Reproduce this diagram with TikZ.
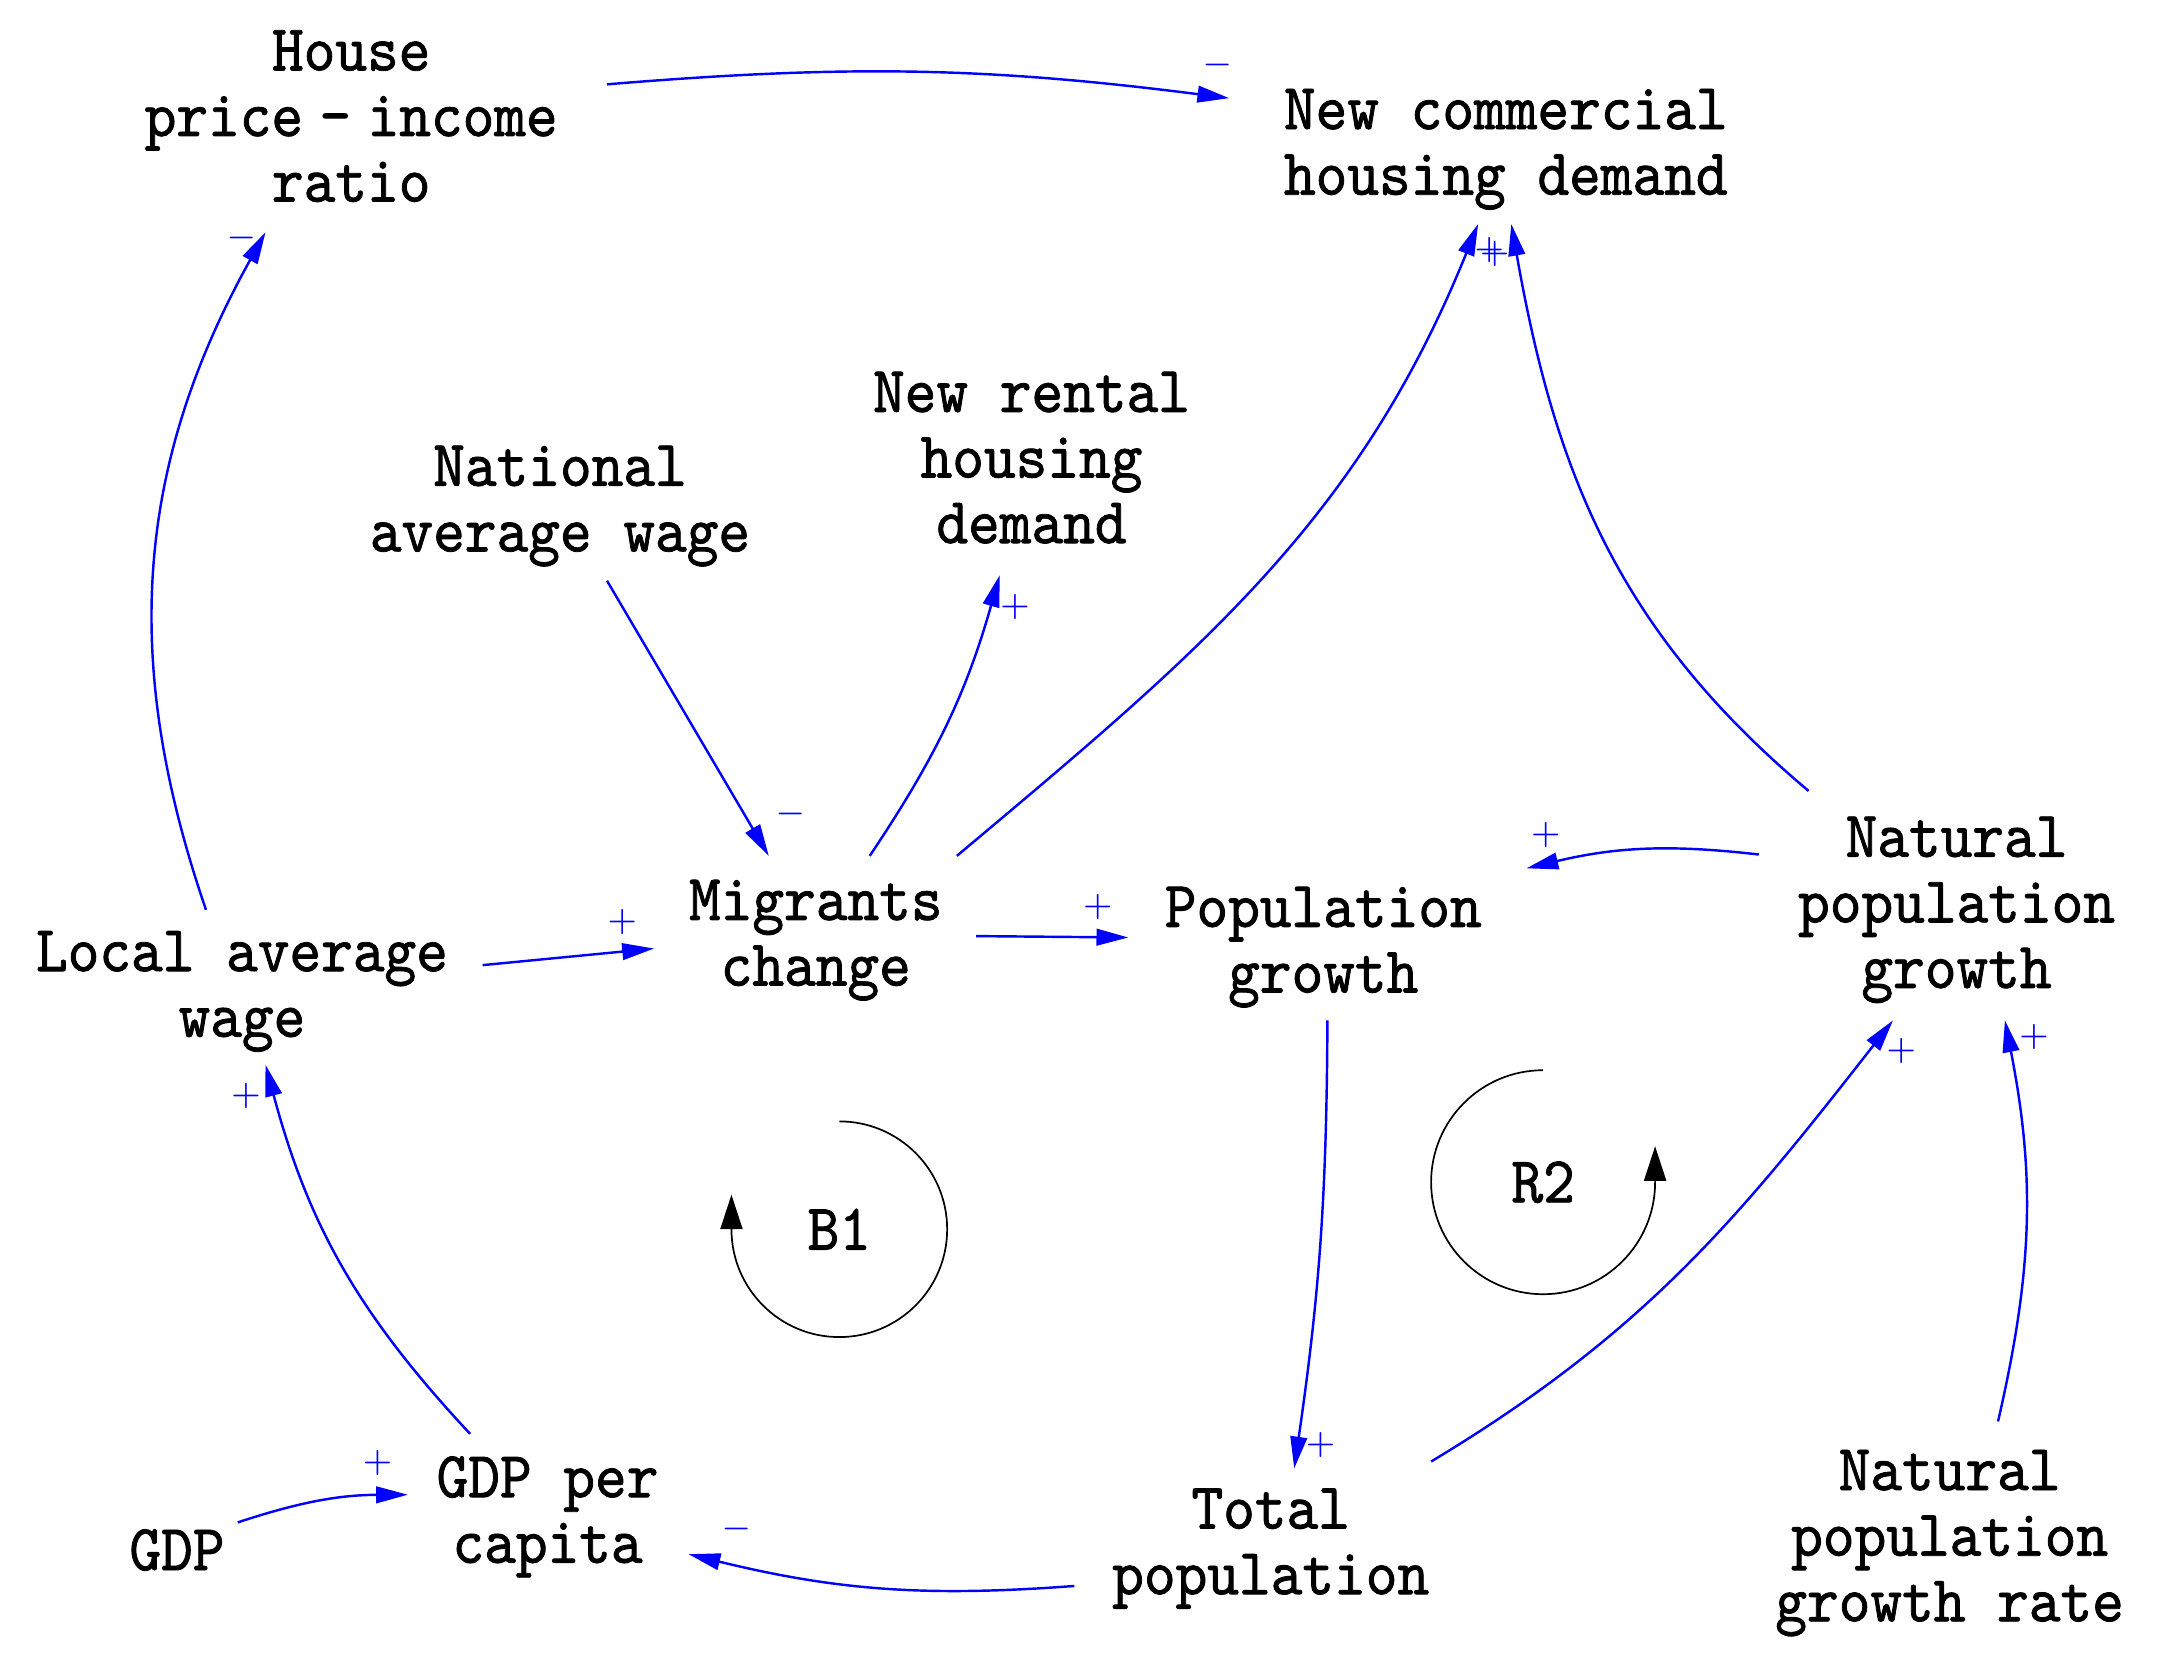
\documentclass[tikz,border=0pt]{standalone}
\usepackage{fontspec}
\setmainfont{lmmono10-regular.otf}[FakeStretch=0.92, FakeBold=1.2]
\usetikzlibrary{arrows.meta}

\begin{document}
\begin{tikzpicture}[
    var/.style={align=center, inner sep=0pt, font=\fontsize{13.5}{13.5}\selectfont},
    sgn/.style={text=blue, inner sep=0pt, font=\fontsize{7}{7}\selectfont},
    lnk/.style={draw=blue, line width=0.5pt, -{Triangle[length=0.23cm,width=0.12cm]}},
    loopar/.style={draw=black, line width=0.35pt, -{Triangle[length=0.25cm,width=0.16cm]}}
    ]
  \useasboundingbox (0,0) rectangle (15.60,11.97);
  % variables
  \node[var] (house) at (2.54,11.13) {House\\price\hspace{0.25em}-\hspace{0.25em}income\\ratio};
  \node[var] (ncom) at (10.89,10.89) {New commercial\\housing demand};
  \node[var] (rent) at (7.46,8.66) {New rental\\housing\\demand};
  \node[var] (natw) at (4.05,8.31) {National\\average wage};
  \node[var] (migr) at (5.90,5.17) {Migrants\\change};
  \node[var] (popg) at (9.57,5.12) {Population\\growth};
  \node[var] (natg) at (14.15,5.39) {Natural\\population\\growth};
  \node[var] (local) at (1.75,4.80) {Local average\\wage};
  \node[var] (gdppc) at (3.96,1.00) {GDP per\\capita};
  \node[var] (gdp) at (1.28,0.76) {GDP};
  \node[var] (total) at (9.19,0.77) {Total\\population};
  \node[var] (natr) at (14.10,0.81) {Natural\\population\\growth rate};
  \node[var] (b1) at (6.07,3.08) {B1};
  \node[var] (r2) at (11.16,3.42) {R2};
  % causal links
  \draw[lnk] ([shift={(1.85,0.23)}]house.center) to[bend left=6]
    node[sgn, at end, xshift=-0.08cm, yshift=0.24cm] {$-$} ([shift={(-2.00,0.37)}]ncom.center);
  \draw[lnk] ([shift={(-0.26,0.59)}]local.center) to[bend left=24]
    node[sgn, at end, xshift=-0.17cm, yshift=-0.04cm] {$-$} ([shift={(-0.62,-0.84)}]house.center);
  \draw[lnk] ([shift={(0.34,-0.54)}]natw.center) --
    node[sgn, at end, xshift=0.16cm, yshift=0.30cm] {$-$} ([shift={(-0.34,0.61)}]migr.center);
  \draw[lnk] ([shift={(0.39,0.61)}]migr.center) to[bend right=9]
    node[sgn, at end, xshift=0.11cm, yshift=-0.23cm] {$+$} ([shift={(-0.23,-0.85)}]rent.center);
  \draw[lnk] ([shift={(1.02,0.61)}]migr.center) to[out=40, in=248]
    node[sgn, at end, xshift=0.08cm, yshift=-0.19cm] {$+$} ([shift={(-0.20,-0.54)}]ncom.center);
  \draw[lnk] ([shift={(-1.07,0.86)}]natg.center) to[out=140, in=-80]
    node[sgn, at end, xshift=-0.12cm, yshift=-0.22cm] {$+$} ([shift={(0.04,-0.54)}]ncom.center);
  \draw[lnk] ([shift={(1.16,0.03)}]migr.center) --
    node[sgn, at end, xshift=-0.22cm, yshift=0.22cm] {$+$} ([shift={(-1.41,0.07)}]popg.center);
  \draw[lnk] ([shift={(-1.43,0.40)}]natg.center) to[bend right=10]
    node[sgn, at end, xshift=0.14cm, yshift=0.24cm] {$+$} ([shift={(1.47,0.57)}]popg.center);
  \draw[lnk] ([shift={(1.74,0.19)}]local.center) --
    node[sgn, at end, xshift=-0.23cm, yshift=0.19cm] {$+$} ([shift={(-1.17,-0.06)}]migr.center);
  \draw[lnk] ([shift={(0.03,-0.53)}]popg.center) to[bend left=4]
    node[sgn, at end, xshift=0.19cm, yshift=0.17cm] {$+$} ([shift={(0.17,0.58)}]total.center);
  \draw[lnk] ([shift={(1.16,0.63)}]total.center) to[out=31, in=232]
    node[sgn, at end, xshift=0.06cm, yshift=-0.22cm] {$+$} ([shift={(-0.46,-0.80)}]natg.center);
  \draw[lnk] ([shift={(0.35,0.88)}]natr.center) to[bend right=12]
    node[sgn, at end, xshift=0.21cm, yshift=-0.12cm] {$+$} ([shift={(0.35,-0.80)}]natg.center);
  \draw[lnk] ([shift={(-0.56,0.60)}]gdppc.center) to[bend left=14]
    node[sgn, at end, xshift=-0.14cm, yshift=-0.23cm] {$+$} ([shift={(0.17,-0.53)}]local.center);
  \draw[lnk] ([shift={(0.44,0.20)}]gdp.center) to[bend left=9]
    node[sgn, at end, xshift=-0.22cm, yshift=0.23cm] {$+$} ([shift={(-1.01,0.16)}]gdppc.center);
  \draw[lnk] ([shift={(-1.42,-0.27)}]total.center) to[bend left=9]
    node[sgn, at end, xshift=0.35cm, yshift=0.18cm] {$-$} ([shift={(1.02,-0.27)}]gdppc.center);
  % loop markers
  \draw[loopar] ([shift={(0,0.78)}]b1.center) arc[start angle=90, end angle=-180, radius=0.78] -- ++(0,0.25);
  \draw[loopar] ([shift={(0,0.81)}]r2.center) arc[start angle=90, end angle=360, radius=0.81] -- ++(0,0.26);
\end{tikzpicture}
\end{document}
